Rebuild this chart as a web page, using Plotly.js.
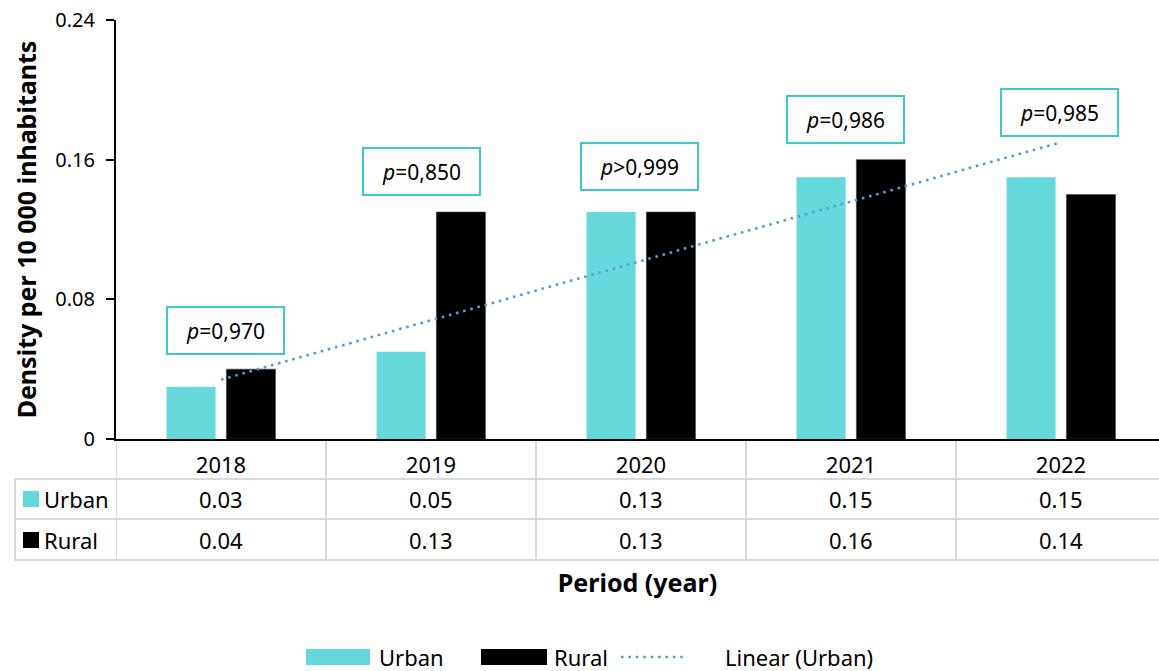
<!DOCTYPE html>
<html>
<head>
<meta charset="utf-8">
<script src="https://cdn.plot.ly/plotly-3.0.1.min.js"></script>
<style>html,body{margin:0;padding:0;background:#fff;}#chart{width:1159px;height:671px;}</style>
</head>
<body>
<div id="chart"></div>
<script>
// ---- data ----
var years = ["2018", "2019", "2020", "2021", "2022"];
var urban = [0.03, 0.05, 0.13, 0.15, 0.15];
var rural = [0.04, 0.13, 0.13, 0.16, 0.14];
var pLabels = ["<i>p</i>=0,970", "<i>p</i>=0,850", "<i>p</i>>0,999", "<i>p</i>=0,986", "<i>p</i>=0,985"];
var yTicks = [0, 0.08, 0.16, 0.24];
var yTickText = ["0", "0.08", "0.16", "0.24"];
var seriesNames = ["Urban", "Rural", "Linear (Urban)"];

// ---- annotation placement (layout, not data) ----
var pBoxY = [0.062, 0.153, 0.156, 0.183, 0.187];
var pBoxDx = [0.02, -0.047, -0.005, -0.028, -0.005];

// ---- style ----
var FONT = "Noto Sans, Open Sans, sans-serif";
var C_URBAN = "#66D8DB";
var C_RURAL = "#000000";
var C_TREND = "#5B9BD5";
var C_BOX = "#3EC9C9";
var C_GRID = "#D9D9D9";
var TXT = 22;

// linear trend (least squares over period index)
var n = urban.length, sx = 0, sy = 0, sxx = 0, sxy = 0;
for (var i = 0; i < n; i++) { var xi = i + 1; sx += xi; sy += urban[i]; sxx += xi * xi; sxy += xi * urban[i]; }
var slope = (n * sxy - sx * sy) / (n * sxx - sx * sx);
var icpt = (sy - slope * sx) / n;
var trend = years.map(function (_, i) { return icpt + slope * (i + 1); });

var traces = [
  { type: "bar", x: years, y: urban, name: seriesNames[0], marker: { color: C_URBAN }, hoverinfo: "skip" },
  { type: "bar", x: years, y: rural, name: seriesNames[1], marker: { color: C_RURAL, line: { color: "#404040", width: 0.6 } }, hoverinfo: "skip" },
  { type: "scatter", mode: "lines", x: years, y: trend, name: seriesNames[2], line: { color: C_TREND, width: 2.6, dash: "2.6px,4.8px" }, hoverinfo: "skip" }
];

// pixel helpers for the table below the plot
var L = 116, T = 20, PH = 419, PW = 1159 - L;
function py(p) { return (T + PH - p) / PH; }        // pixel y -> paper y
function px(p) { return (p - L) / PW; }             // pixel x -> paper x

var shapes = [];
var annotations = [];
var gl = { color: C_GRID, width: 2 };

// table horizontal lines
[479, 519, 560].forEach(function (yy) {
  shapes.push({ type: "line", xref: "paper", yref: "paper", x0: px(14), x1: 1, y0: py(yy), y1: py(yy), line: gl, layer: "below" });
});
// table vertical lines
for (var k = 0; k < years.length; k++) {
  shapes.push({ type: "line", xref: "x", yref: "paper", x0: k - 0.5, x1: k - 0.5, y0: py(441), y1: py(560), line: gl });
}
shapes.push({ type: "line", xref: "paper", yref: "paper", x0: px(15), x1: px(15), y0: py(479), y1: py(560), line: gl });

// table row legend keys
var rowY = [499, 540];
var rowColors = [C_URBAN, C_RURAL];
for (var r = 0; r < 2; r++) {
  shapes.push({ type: "rect", xref: "paper", yref: "paper", x0: px(23), x1: px(39), y0: py(rowY[r] - 8), y1: py(rowY[r] + 8), fillcolor: rowColors[r], line: { width: 0 } });
  annotations.push({ xref: "paper", yref: "paper", x: px(42), y: py(rowY[r]), xanchor: "left", yanchor: "middle", showarrow: false, text: seriesNames[r], font: { family: FONT, size: TXT, color: "#000" } });
}
// table values
var rows = [urban, rural];
for (var r2 = 0; r2 < 2; r2++) {
  for (var k2 = 0; k2 < years.length; k2++) {
    annotations.push({ xref: "x", yref: "paper", x: k2, y: py(rowY[r2]), xanchor: "center", yanchor: "middle", showarrow: false, text: rows[r2][k2].toFixed(2), font: { family: FONT, size: TXT, color: "#000" } });
  }
}

// p-value boxes
for (var j = 0; j < years.length; j++) {
  annotations.push({ xref: "x", yref: "y", x: j + pBoxDx[j], y: pBoxY[j], showarrow: false, text: pLabels[j], width: 111, height: 41, align: "center", valign: "middle", bordercolor: C_BOX, borderwidth: 2, borderpad: 2, bgcolor: "#fff", font: { family: FONT, size: 21, color: "#000" } });
}

// bottom legend
var legY = py(657);
shapes.push({ type: "rect", xref: "paper", yref: "paper", x0: px(306), x1: px(370), y0: py(665), y1: py(649), fillcolor: C_URBAN, line: { width: 0 } });
annotations.push({ xref: "paper", yref: "paper", x: px(377), y: legY, xanchor: "left", yanchor: "middle", showarrow: false, text: seriesNames[0], font: { family: FONT, size: TXT, color: "#000" } });
shapes.push({ type: "rect", xref: "paper", yref: "paper", x0: px(481), x1: px(547), y0: py(665), y1: py(649), fillcolor: C_RURAL, line: { width: 0 } });
annotations.push({ xref: "paper", yref: "paper", x: px(552), y: legY, xanchor: "left", yanchor: "middle", showarrow: false, text: seriesNames[1], font: { family: FONT, size: TXT, color: "#000" } });
shapes.push({ type: "line", xref: "paper", yref: "paper", x0: px(621), x1: px(684), y0: legY, y1: legY, line: { color: C_TREND, width: 2.6, dash: "2.6px,4.8px" } });
annotations.push({ xref: "paper", yref: "paper", x: px(723), y: legY, xanchor: "left", yanchor: "middle", showarrow: false, text: seriesNames[2], font: { family: FONT, size: TXT, color: "#000" } });

var layout = {
  width: 1159, height: 671,
  margin: { l: L, r: 0, t: T, b: 671 - T - PH, pad: 0 },
  paper_bgcolor: "#fff", plot_bgcolor: "#fff",
  font: { family: FONT, size: 20, color: "#000" },
  showlegend: false,
  barmode: "group", bargap: 0.43, bargroupgap: 0.18,
  xaxis: {
    type: "category", range: [-0.5, -0.5 + PW / 210],
    showline: true, linecolor: "#000", linewidth: 2,
    ticks: "outside", ticklen: 6, tickcolor: "rgba(0,0,0,0)",
    tickfont: { family: FONT, size: TXT, color: "#000" },
    showgrid: false, zeroline: false, fixedrange: true,
    title: { text: "<b>Period (year)</b>", font: { family: FONT, size: 25, color: "#000" }, standoff: 96 }
  },
  yaxis: {
    range: [0, 0.24], tickvals: yTicks, ticktext: yTickText,
    showline: true, linecolor: "#000", linewidth: 2,
    ticks: "outside", ticklen: 8, tickwidth: 2, tickcolor: "#000",
    ticklabelstandoff: 7,
    tickfont: { family: FONT, size: 20, color: "#000" },
    showgrid: false, zeroline: false, fixedrange: true,
    title: { text: "<b>Density per 10 000 inhabitants</b>", font: { family: FONT, size: 25, color: "#000" }, standoff: 12 }
  },
  shapes: shapes,
  annotations: annotations
};

Plotly.newPlot("chart", traces, layout, { displayModeBar: false, staticPlot: true });
</script>
</body>
</html>
